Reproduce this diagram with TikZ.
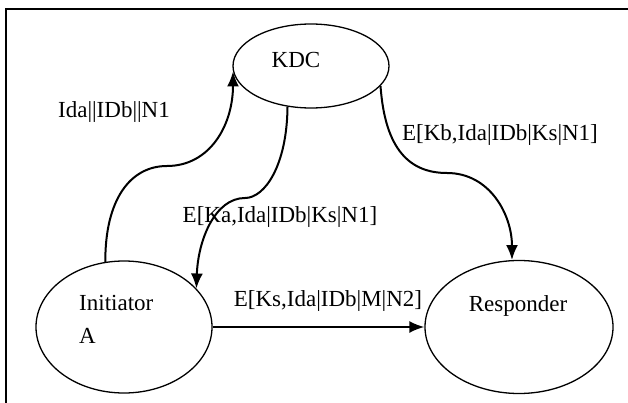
\documentclass[tikz,border=0pt]{standalone}
\usepackage{fontspec}
\setmainfont{Liberation Serif}
\usetikzlibrary{shapes.geometric,arrows.meta}

\begin{document}
\begin{tikzpicture}[x=1pt, y=-1pt, inner sep=1pt, >={Latex[length=15pt,width=12pt]},
   ent/.style={draw, ellipse, line width=1.3pt, inner sep=0pt},
   msg/.style={anchor=base, font=\fontsize{23}{28}\selectfont},
   flow/.style={->, line width=2pt}
   ]
   \path[fill=white, use as bounding box] (0,0) rectangle (628,403);
   \draw[line width=2pt] (6,403) -- (6,9) -- (628,9);

   \path (311,66) node[ent, minimum width=156pt, minimum height=84pt] (kdc) {}
   (124,327) node[ent, minimum width=176pt, minimum height=132pt] (init) {}
   (519,327) node[ent, minimum width=188pt, minimum height=133pt] (resp) {};

   \node[msg] (kdclbl) at (296,68) {KDC};
   \node[msg, anchor=base west] (initlbl) at (78,310.5) {Initiator};
   \node[msg, anchor=base west] (initlblb) at (78,343) {A};
   \node[msg] (resplbl) at (518,311) {Responder};

   \draw[flow] (init.106) .. controls (105,200) and (130,166) .. (167,166)
      .. controls (210,166) and (233,125) .. (kdc.184);
   \draw[flow] (kdc.240) .. controls (287,165) and (265,198) .. (245,198)
      .. controls (215,198) and (198,240) .. (init.28);
   \draw[flow] (kdc.-16) .. controls (385,150) and (410,173) .. (447,173)
      .. controls (490,173) and (512,215) .. (resp.96);
   \draw[flow] (init.east) -- (resp.west);

   \node[msg] (m1) at (114,118) {Ida||IDb||N1};
   \node[msg] (m2) at (500,140.5) {E[Kb,Ida|IDb|Ks|N1]};
   \node[msg] (m3) at (280,222.5) {E[Ka,Ida|IDb|Ks|N1]};
   \node[msg] (m4) at (328,306.5) {E[Ks,Ida|IDb|M|N2]};

\end{tikzpicture}
\end{document}
